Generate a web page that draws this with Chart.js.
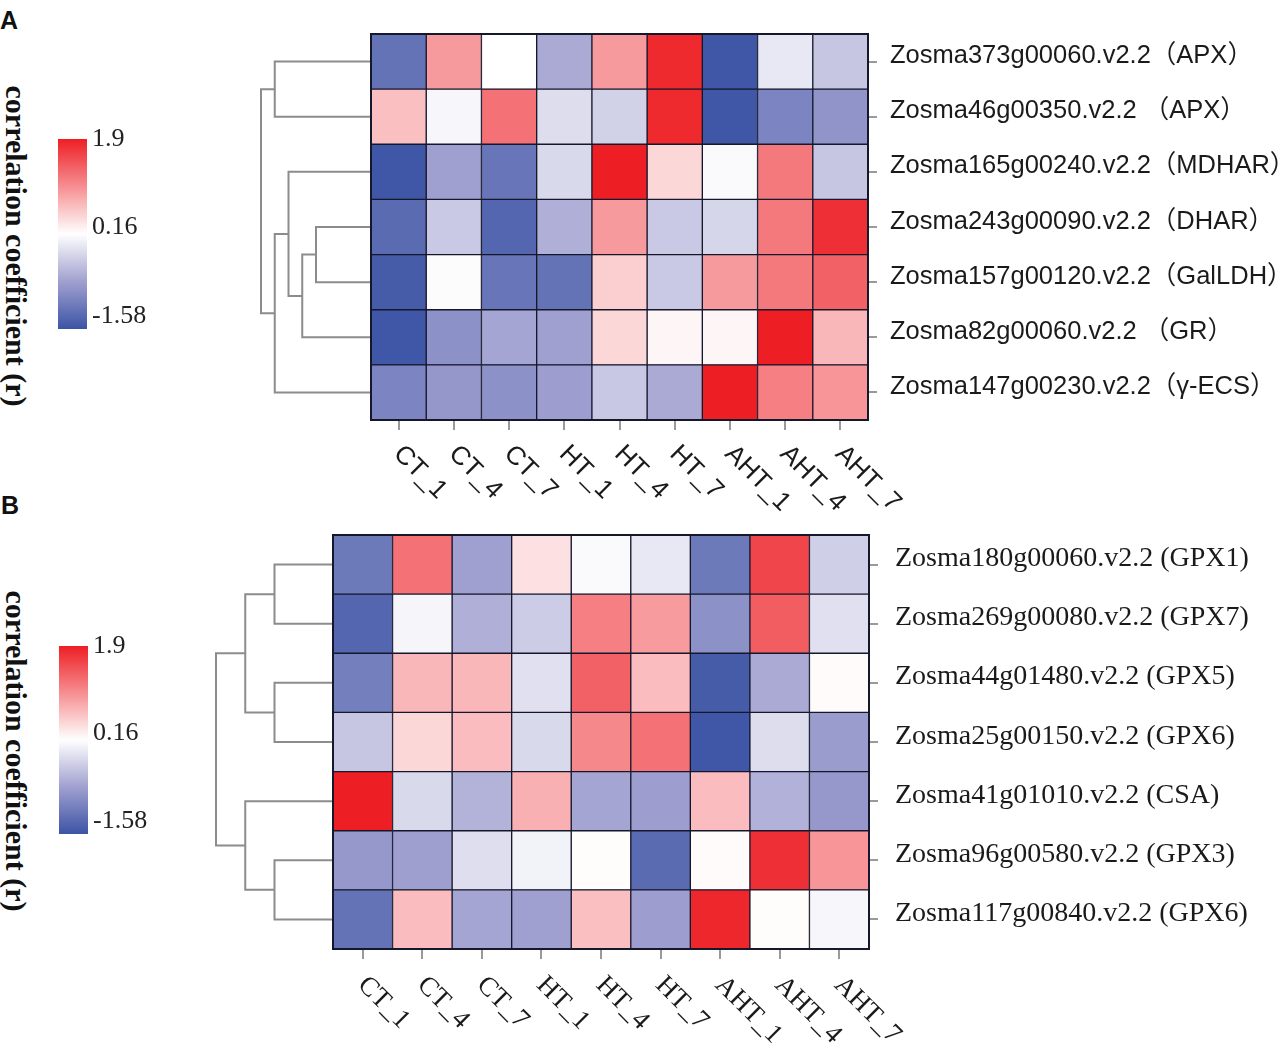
<!DOCTYPE html>
<html>
<head>
<meta charset="utf-8">
<script src="https://cdn.jsdelivr.net/npm/chart.js@4.4.1/dist/chart.umd.min.js"></script>
<style>
  body { margin: 0; background: #fff; }
  #page { position: relative; width: 1282px; height: 1044px; overflow: hidden; background: #fff; }
  .letter { position: absolute; font: bold 25px "Liberation Sans", Arial, sans-serif; color: #111; }
  .ctitle { position: absolute; writing-mode: vertical-rl; white-space: nowrap;
            font: bold 30px "Liberation Serif", "Times New Roman", serif; color: #111;
            transform: translate(-50%, -50%); }
</style>
</head>
<body>
<div id="page">
  <div class="letter" style="left:0px;top:6px">A</div>
  <div class="letter" style="left:1px;top:491px">B</div>
  <div class="ctitle" style="left:16px;top:246px">correlation coefficient (r)</div>
  <div class="ctitle" style="left:16px;top:751px">correlation coefficient (r)</div>
</div>
<script>
// 数据
const colLabels = ['CT_1', 'CT_4', 'CT_7', 'HT_1', 'HT_4', 'HT_7', 'AHT_1', 'AHT_4', 'AHT_7'];

const rowsA = [
    'Zosma373g00060.v2.2（APX）',
    'Zosma46g00350.v2.2 （APX）',
    'Zosma165g00240.v2.2（MDHAR）',
    'Zosma243g00090.v2.2（DHAR）',
    'Zosma157g00120.v2.2（GalLDH）',
    'Zosma82g00060.v2.2 （GR）',
    'Zosma147g00230.v2.2（γ-ECS）'
];
const valuesA = [
    [-1.23, 0.94, 0.16, -0.62, 0.94, 1.81, -1.55, -0.05, -0.36],
    [0.65, 0.09, 1.26, -0.15, -0.26, 1.81, -1.55, -1.02, -0.85],
    [-1.55, -0.71, -1.20, -0.19, 1.90, 0.47, 0.11, 1.20, -0.36],
    [-1.32, -0.33, -1.37, -0.57, 0.94, -0.33, -0.22, 1.20, 1.76],
    [-1.49, 0.13, -1.20, -1.23, 0.54, -0.33, 0.94, 1.20, 1.38],
    [-1.55, -0.88, -0.66, -0.71, 0.47, 0.23, 0.23, 1.90, 0.72],
    [-1.02, -0.81, -0.88, -0.74, -0.34, -0.62, 1.90, 1.15, 0.98]
];

const rowsB = [
    'Zosma180g00060.v2.2 (GPX1)',
    'Zosma269g00080.v2.2 (GPX7)',
    'Zosma44g01480.v2.2 (GPX5)',
    'Zosma25g00150.v2.2 (GPX6)',
    'Zosma41g01010.v2.2 (CSA)',
    'Zosma96g00580.v2.2 (GPX3)',
    'Zosma117g00840.v2.2 (GPX6)'
];
const valuesB = [
    [-1.15, 1.26, -0.71, 0.39, 0.11, -0.05, -1.15, 1.59, -0.28],
    [-1.37, 0.07, -0.57, -0.31, 1.15, 0.93, -0.88, 1.41, -0.12],
    [-1.09, 0.72, 0.72, -0.12, 1.38, 0.68, -1.49, -0.62, 0.19],
    [-0.36, 0.47, 0.68, -0.19, 1.08, 1.26, -1.55, -0.15, -0.76],
    [1.90, -0.19, -0.54, 0.77, -0.66, -0.74, 0.68, -0.55, -0.80],
    [-0.80, -0.73, -0.14, 0.04, 0.18, -1.32, 0.19, 1.76, 0.98],
    [-1.23, 0.68, -0.66, -0.71, 0.65, -0.74, 1.83, 0.18, 0.09]
];

// 色标
const scaleMin = -1.58;
const scaleMid = 0.16;
const scaleMax = 1.9;
const legendTicks = [1.9, 0.16, -1.58];

// 聚类树: [左, 右, 高度]; 数字是行号, 'mN' 是第 N 次合并
const treeA = [[3, 4, 4], ['m0', 5, 5], [2, 'm1', 6], [0, 1, 7], ['m2', 6, 7], ['m3', 'm4', 8]];
const treeB = [[0, 1, 2], [2, 3, 2], ['m0', 'm1', 3], [5, 6, 2], [4, 'm3', 3], ['m2', 'm4', 4]];

// 版面
const gridA = { left: 371, top: 34, right: 868, bottom: 420 };
const gridB = { left: 333, top: 535, right: 869, bottom: 949 };
const barA = { left: 58, top: 139, right: 87, bottom: 329 };
const barB = { left: 59, top: 646, right: 88, bottom: 834 };

// 蓝色一侧带一点紫, 红色一侧直接到白
const BLUE_STOPS = [[0, [255, 255, 255]], [0.5, [160, 160, 208]], [1, [60, 84, 165]]];
const RED_STOPS = [[0, [255, 255, 255]], [1, [237, 30, 36]]];
const LINE_GREY = '#8c8c8c';
const CELL_EDGE = '#15172b';

function ramp(stops, t) {
    for (let i = 1; i < stops.length; i++) {
        if (t <= stops[i][0]) {
            const [t0, c0] = stops[i - 1];
            const [t1, c1] = stops[i];
            const k = (t - t0) / (t1 - t0);
            return c0.map((v, j) => Math.round(v + (c1[j] - v) * k));
        }
    }
    return stops[stops.length - 1][1];
}

function colorFor(v) {
    let c;
    if (v >= scaleMid) {
        c = ramp(RED_STOPS, Math.min(1, (v - scaleMid) / (scaleMax - scaleMid)));
    } else {
        c = ramp(BLUE_STOPS, Math.min(1, (scaleMid - v) / (scaleMid - scaleMin)));
    }
    return 'rgb(' + c[0] + ',' + c[1] + ',' + c[2] + ')';
}

function addCanvas(left, top, width, height) {
    const c = document.createElement('canvas');
    c.width = width;
    c.height = height;
    c.style.cssText = 'position:absolute;left:' + left + 'px;top:' + top + 'px;width:' + width + 'px;height:' + height + 'px';
    document.getElementById('page').appendChild(c);
    return c;
}

// 热图
function drawHeatmap(grid, rows, values, style) {
    const axisRight = 1282 - grid.right;
    const axisBottom = 100;
    const canvas = addCanvas(grid.left - 10, grid.top - 10,
        grid.right - grid.left + 10 + axisRight, grid.bottom - grid.top + 10 + axisBottom);

    const labelPlugin = {
        id: 'heatLabels',
        afterDraw(chart) {
            const { ctx, chartArea, scales } = chart;
            ctx.save();
            ctx.strokeStyle = CELL_EDGE;
            ctx.lineWidth = 2;
            ctx.strokeRect(chartArea.left, chartArea.top, chartArea.right - chartArea.left, chartArea.bottom - chartArea.top);

            ctx.fillStyle = '#1a1a1a';
            ctx.font = style.rowFont;
            ctx.textAlign = 'left';
            ctx.textBaseline = 'alphabetic';
            rows.forEach((name, i) => {
                ctx.fillText(name, chartArea.right + style.rowGap, scales.y.getPixelForValue(i) + 1.5);
            });

            ctx.font = style.colFont;
            ctx.textBaseline = 'middle';
            colLabels.forEach((name, i) => {
                const x = scales.x.getPixelForValue(i + 0.5);
                ctx.save();
                ctx.translate(x + style.colDx, chartArea.bottom + style.colDy);
                ctx.rotate(Math.PI / 4);
                ctx.fillText(name, 0, 0);
                ctx.restore();
            });
            ctx.restore();
        }
    };

    return new Chart(canvas, {
        type: 'bar',
        data: {
            labels: rows,
            datasets: colLabels.map((col, c) => ({
                label: col,
                data: rows.map(() => 1),
                backgroundColor: rows.map((_, r) => colorFor(values[r][c])),
                borderColor: CELL_EDGE,
                borderWidth: 1,
                borderSkipped: false,
                barPercentage: 1,
                categoryPercentage: 1
            }))
        },
        options: {
            indexAxis: 'y',
            responsive: false,
            animation: false,
            layout: { padding: { left: 10, top: 10, right: 0, bottom: 0 } },
            scales: {
                x: {
                    type: 'linear',
                    stacked: true,
                    min: 0,
                    max: colLabels.length,
                    position: 'bottom',
                    afterBuildTicks: s => { s.ticks = colLabels.map((_, i) => ({ value: i + 0.5 })); },
                    afterFit: s => { s.height = axisBottom; },
                    ticks: { display: false },
                    grid: { drawOnChartArea: false, tickLength: 10, color: '#9a9a9a', lineWidth: 2 },
                    border: { display: false }
                },
                y: {
                    stacked: true,
                    position: 'right',
                    afterFit: s => { s.width = axisRight; },
                    ticks: { display: false },
                    grid: { offset: false, drawOnChartArea: false, tickLength: 9, color: '#9a9a9a', lineWidth: 2 },
                    border: { display: false }
                }
            },
            plugins: { legend: { display: false }, tooltip: { enabled: false } }
        },
        plugins: [labelPlugin]
    });
}

// 聚类树
function drawDendrogram(tree, nRows, grid, rootX) {
    const maxH = tree[tree.length - 1][2];
    const canvas = addCanvas(rootX - 10, grid.top - 10, grid.left - rootX + 20, grid.bottom - grid.top + 20);
    const nodes = [];
    const nodeOf = ref => typeof ref === 'number' ? { y: ref, h: 0 } : nodes[+ref.slice(1)];
    const datasets = tree.map(([a, b, h]) => {
        const A = nodeOf(a);
        const B = nodeOf(b);
        nodes.push({ y: (A.y + B.y) / 2, h: h });
        return {
            data: [{ x: A.h, y: A.y }, { x: h, y: A.y }, { x: h, y: B.y }, { x: B.h, y: B.y }],
            showLine: true,
            borderColor: LINE_GREY,
            borderWidth: 2,
            pointRadius: 0,
            tension: 0,
            clip: false
        };
    });
    return new Chart(canvas, {
        type: 'scatter',
        data: { datasets: datasets },
        options: {
            responsive: false,
            animation: false,
            layout: { padding: 10 },
            scales: {
                x: { type: 'linear', min: 0, max: maxH, reverse: true, display: false },
                y: { type: 'linear', min: -0.5, max: nRows - 0.5, reverse: true, display: false }
            },
            plugins: { legend: { display: false }, tooltip: { enabled: false } }
        }
    });
}

// 色标条
function drawColorBar(bar) {
    const canvas = addCanvas(bar.left - 10, bar.top - 10, bar.right - bar.left + 110, bar.bottom - bar.top + 20);
    const tickPlugin = {
        id: 'barTicks',
        afterDraw(chart) {
            const { ctx, chartArea, scales } = chart;
            ctx.save();
            ctx.fillStyle = '#222';
            ctx.font = '26px "Liberation Serif", "Times New Roman", serif';
            ctx.textAlign = 'left';
            ctx.textBaseline = 'alphabetic';
            legendTicks.forEach(v => {
                let y = scales.y.getPixelForValue(v);
                y = Math.max(chartArea.top + 7, Math.min(chartArea.bottom - 6, y));
                ctx.fillText(String(v), chartArea.right + 5, y);
            });
            ctx.restore();
        }
    };
    return new Chart(canvas, {
        type: 'bar',
        data: {
            labels: [''],
            datasets: [{
                data: [[scaleMin, scaleMax]],
                barPercentage: 1,
                categoryPercentage: 1,
                borderWidth: 0,
                backgroundColor: context => {
                    const chart = context.chart;
                    if (!chart.chartArea) return null;
                    const ys = chart.scales.y;
                    const g = chart.ctx.createLinearGradient(0, ys.getPixelForValue(scaleMin), 0, ys.getPixelForValue(scaleMax));
                    for (let i = 0; i <= 20; i++) {
                        g.addColorStop(i / 20, colorFor(scaleMin + (scaleMax - scaleMin) * i / 20));
                    }
                    return g;
                }
            }]
        },
        options: {
            responsive: false,
            animation: false,
            layout: { padding: { left: 10, top: 10, bottom: 10, right: 100 } },
            scales: {
                x: { display: false },
                y: { type: 'linear', min: scaleMin, max: scaleMax, display: false }
            },
            plugins: { legend: { display: false }, tooltip: { enabled: false } }
        },
        plugins: [tickPlugin]
    });
}

drawDendrogram(treeA, rowsA.length, gridA, 261);
drawDendrogram(treeB, rowsB.length, gridB, 216);

drawHeatmap(gridA, rowsA, valuesA, {
    rowFont: '25.5px "Liberation Sans", "Noto Sans CJK SC", sans-serif',
    rowGap: 22,
    colFont: '26px "Liberation Sans", Arial, sans-serif',
    colDx: -1,
    colDy: 30
});
drawHeatmap(gridB, rowsB, valuesB, {
    rowFont: '28px "Liberation Serif", "Times New Roman", serif',
    rowGap: 26,
    colFont: '27px "Liberation Serif", "Times New Roman", serif',
    colDx: -1,
    colDy: 32
});

drawColorBar(barA);
drawColorBar(barB);
</script>
</body>
</html>
